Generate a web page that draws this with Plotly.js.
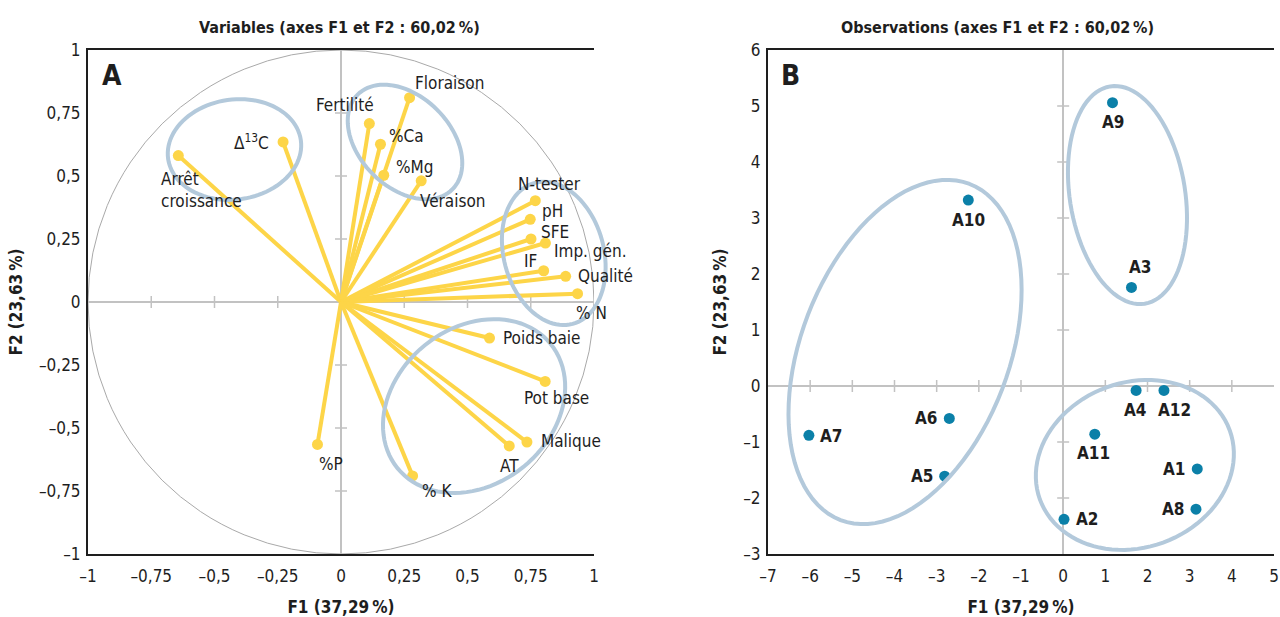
<!DOCTYPE html>
<html>
<head>
<meta charset="utf-8">
<script src="https://cdn.plot.ly/plotly-3.0.1.min.js"></script>
<style>html,body{margin:0;padding:0;background:#fff;}#chart{width:1280px;height:617px;}</style>
</head>
<body>
<div id="chart"></div>
<script>
// ---------- DATA ----------
const varNames = ['Arrêt<br>croissance','Δ<sup>13</sup>C','Fertilité','%Ca','Floraison','%Mg','Véraison','N-tester','pH','SFE','Imp. gén.','IF','Qualité','% N','Poids baie','Pot base','Malique','AT','% K','%P'];
const varF1 = [-0.643,-0.229,0.112,0.156,0.271,0.169,0.317,0.768,0.748,0.751,0.808,0.801,0.888,0.935,0.587,0.807,0.735,0.665,0.283,-0.093];
const varF2 = [0.581,0.635,0.708,0.626,0.811,0.503,0.481,0.402,0.328,0.250,0.234,0.124,0.102,0.033,-0.143,-0.315,-0.556,-0.571,-0.690,-0.565];

const obsNames = ['A1','A2','A3','A4','A5','A6','A7','A8','A9','A10','A11','A12'];
const obsF1 = [3.18,0.02,1.62,1.73,-2.81,-2.70,-6.03,3.15,1.17,-2.25,0.75,2.39];
const obsF2 = [-1.48,-2.38,1.76,-0.08,-1.61,-0.58,-0.88,-2.20,5.06,3.32,-0.86,-0.08];

const varTickVals = [-1,-0.75,-0.5,-0.25,0,0.25,0.5,0.75,1];
const varTickText = ['–1','–0,75','–0,5','–0,25','0','0,25','0,5','0,75','1'];
const obsXTickVals = [-7,-6,-5,-4,-3,-2,-1,0,1,2,3,4,5];
const obsXTickText = ['–7','–6','–5','–4','–3','–2','–1','0','1','2','3','4','5'];
const obsYTickVals = [-3,-2,-1,0,1,2,3,4,5,6];
const obsYTickText = ['–3','–2','–1','0','1','2','3','4','5','6'];

// ---------- LABEL PLACEMENT (pixels) ----------
const varLabelAnchor = ['left','right','center','left','left','left','left','center','left','left','left','right','left','left','left','center','left','center','left','left'];
const varLabelDx = [-19,-12,-24,7,3,10,-3,14,10,8,7,-5,10,-4,11,11,12,0,7,0];
const varLabelDy = [-11,0,19,8,15,8,-20,17,8,7,-8,10,0,-19,0,-17,1,-20,-15,-20];
const obsLabelAnchor = ['right','left','center','center','right','right','left','right','center','center','center','center'];
const obsLabelDx = [-10,10,9,-1,-10,-10,9,-10,0,0,-1,11];
const obsLabelDy = [0,0,20,-20,0,0,-1,0,-19,-20,-19,-20];

// ---------- LAYOUT GEOMETRY ----------
const W = 1280, H = 617, mT = 50, mB = 63;
const dom1 = [88/W, 594/W], dom2 = [768/W, 1274/W];
const plotH = H - mT - mB;
const r1x = [-1,1], r1y = [-1,1], r2x = [-7,5], r2y = [-3,6];

const FONT = '"Liberation Sans Narrow","DejaVu Sans Condensed","Roboto Condensed","Open Sans",sans-serif';
const YEL = '#FDD548', BLUE = '#0B80A8', ELL = '#B3C9DB', DARK = '#1e1e1e', GRID = '#c2c2c2';

// ellipse in paper coordinates (so it is not clipped by the plot area)
function ellipsePath(cx, cy, a, b, phiDeg, dom, rx, ry){
  const pw = (dom[1]-dom[0])*W;
  const px0 = dom[0]*W + (cx-rx[0])/(rx[1]-rx[0])*pw;
  const py0 = (cy-ry[0])/(ry[1]-ry[0])*plotH;   // from bottom of plot area
  const phi = phiDeg*Math.PI/180; let p='';
  for(let i=0;i<=96;i++){
    const t=i/96*2*Math.PI;
    const dx=a*Math.cos(phi)*Math.cos(t)-b*Math.sin(phi)*Math.sin(t);
    const dy=a*Math.sin(phi)*Math.cos(t)+b*Math.cos(phi)*Math.sin(t);
    p+=(i?'L':'M')+((px0+dx)/W).toFixed(5)+','+((py0-dy)/plotH).toFixed(5);
  }
  return p+'Z';
}

// ---------- TRACES ----------
const lx=[], ly=[];
varF1.forEach((v,i)=>{lx.push(0,v,null); ly.push(0,varF2[i],null);});
const traces = [
  {type:'scatter',mode:'lines',x:lx,y:ly,xaxis:'x',yaxis:'y',line:{color:YEL,width:4},hoverinfo:'skip',showlegend:false,cliponaxis:false},
  {type:'scatter',mode:'markers',x:varF1,y:varF2,xaxis:'x',yaxis:'y',marker:{color:YEL,size:11},showlegend:false,cliponaxis:false},
  {type:'scatter',mode:'markers',x:obsF1,y:obsF2,xaxis:'x2',yaxis:'y2',marker:{color:BLUE,size:11},showlegend:false,cliponaxis:false}
];

// ---------- SHAPES ----------
const shapes = [];
shapes.push({type:'circle',xref:'x',yref:'y',x0:-1,x1:1,y0:-1,y1:1,line:{color:'#a9a9a9',width:1},layer:'below'});
function crossTicks(xr,yr,xt,yt){
  xt.forEach(t=>shapes.push({type:'line',xref:xr,yref:yr,x0:t,x1:t,ysizemode:'pixel',yanchor:0,y0:-6,y1:6,line:{color:GRID,width:1.5},layer:'below'}));
  yt.forEach(t=>shapes.push({type:'line',xref:xr,yref:yr,y0:t,y1:t,xsizemode:'pixel',xanchor:0,x0:-6,x1:6,line:{color:GRID,width:1.5},layer:'below'}));
}
crossTicks('x','y',[-0.75,-0.5,-0.25,0.25,0.5,0.75],[-0.75,-0.5,-0.25,0.25,0.5,0.75]);
crossTicks('x2','y2',[-6,-5,-4,-3,-2,-1,1,2,3,4],[-2,-1,1,2,3,4,5]);
// cluster ellipses: [cx, cy (data), a, b (px), angle]
const ell1 = [[-0.421,0.605,67,50,-8],[0.253,0.635,67,45.5,45],[0.841,0.193,73,50,75],[0.526,-0.413,98.6,78.3,-39]];
const ell2 = [[1.525,3.41,110,57.7,81],[-3.75,0.607,180,104,-69],[1.70,-1.41,101,82.6,-20]];
ell1.forEach(e=>shapes.push({type:'path',xref:'paper',yref:'paper',path:ellipsePath(e[0],e[1],e[2],e[3],e[4],dom1,r1x,r1y),line:{color:ELL,width:4}}));
ell2.forEach(e=>shapes.push({type:'path',xref:'paper',yref:'paper',path:ellipsePath(e[0],e[1],e[2],e[3],e[4],dom2,r2x,r2y),line:{color:ELL,width:4}}));

// ---------- ANNOTATIONS ----------
const ann = [];
varNames.forEach((n,i)=>ann.push({x:varF1[i],y:varF2[i],xref:'x',yref:'y',text:n,showarrow:false,
  xanchor:varLabelAnchor[i],yanchor:i===0?'top':'middle',align:'left',xshift:varLabelDx[i],yshift:varLabelDy[i],
  font:{family:FONT,size:17,color:DARK}}));
obsNames.forEach((n,i)=>ann.push({x:obsF1[i],y:obsF2[i],xref:'x2',yref:'y2',text:n,showarrow:false,
  xanchor:obsLabelAnchor[i],yanchor:'middle',xshift:obsLabelDx[i],yshift:obsLabelDy[i],
  font:{family:FONT,size:17,color:DARK,weight:700}}));
ann.push({xref:'paper',yref:'paper',x:(dom1[0]+dom1[1])/2,y:1,xshift:-2,yshift:23,xanchor:'center',yanchor:'middle',showarrow:false,
  text:'Variables (axes F1 et F2 : 60,02\u202F%)',font:{family:FONT,size:16,weight:700,color:DARK}});
ann.push({xref:'paper',yref:'paper',x:(dom2[0]+dom2[1])/2,y:1,xshift:-24,yshift:23,xanchor:'center',yanchor:'middle',showarrow:false,
  text:'Observations (axes F1 et F2 : 60,02\u202F%)',font:{family:FONT,size:16,weight:700,color:DARK}});
ann.push({xref:'paper',yref:'paper',x:dom1[0],y:1,xshift:24,yshift:-25,xanchor:'center',yanchor:'middle',showarrow:false,
  text:'A',font:{family:FONT,size:28,weight:700,color:DARK}});
ann.push({xref:'paper',yref:'paper',x:dom2[0],y:1,xshift:22,yshift:-25,xanchor:'center',yanchor:'middle',showarrow:false,
  text:'B',font:{family:FONT,size:28,weight:700,color:DARK}});

const axisCommon = {showgrid:false,zeroline:true,zerolinecolor:GRID,zerolinewidth:1.5,showline:true,linecolor:DARK,linewidth:2,
  ticks:'',tickmode:'array',tickfont:{family:FONT,size:17,color:DARK},fixedrange:true};
const tFont = {family:FONT,size:17,weight:700,color:DARK};
const layout = {
  width:W,height:H,margin:{l:0,r:0,t:mT,b:mB},paper_bgcolor:'#fff',plot_bgcolor:'#fff',showlegend:false,
  font:{family:FONT,color:DARK},
  xaxis:Object.assign({},axisCommon,{domain:dom1,range:r1x,tickvals:varTickVals,ticktext:varTickText,mirror:true,anchor:'y',
    ticklabelstandoff:6,title:{text:'F1 (37,29\u202F%)',font:tFont,standoff:16}}),
  yaxis:Object.assign({},axisCommon,{domain:[0,1],range:r1y,tickvals:varTickVals,ticktext:varTickText,anchor:'x',
    ticklabelstandoff:2,title:{text:'F2 (23,63\u202F%)',font:tFont,standoff:12}}),
  xaxis2:Object.assign({},axisCommon,{domain:dom2,range:r2x,tickvals:obsXTickVals,ticktext:obsXTickText,mirror:true,anchor:'y2',
    ticklabelstandoff:6,title:{text:'F1 (37,29\u202F%)',font:tFont,standoff:16}}),
  yaxis2:Object.assign({},axisCommon,{domain:[0,1],range:r2y,tickvals:obsYTickVals,ticktext:obsYTickText,anchor:'x2',
    ticklabelstandoff:2,title:{text:'F2 (23,63\u202F%)',font:tFont,standoff:12}}),
  shapes:shapes,annotations:ann
};
Plotly.newPlot('chart',traces,layout,{displayModeBar:false,staticPlot:true});
</script>
</body>
</html>
